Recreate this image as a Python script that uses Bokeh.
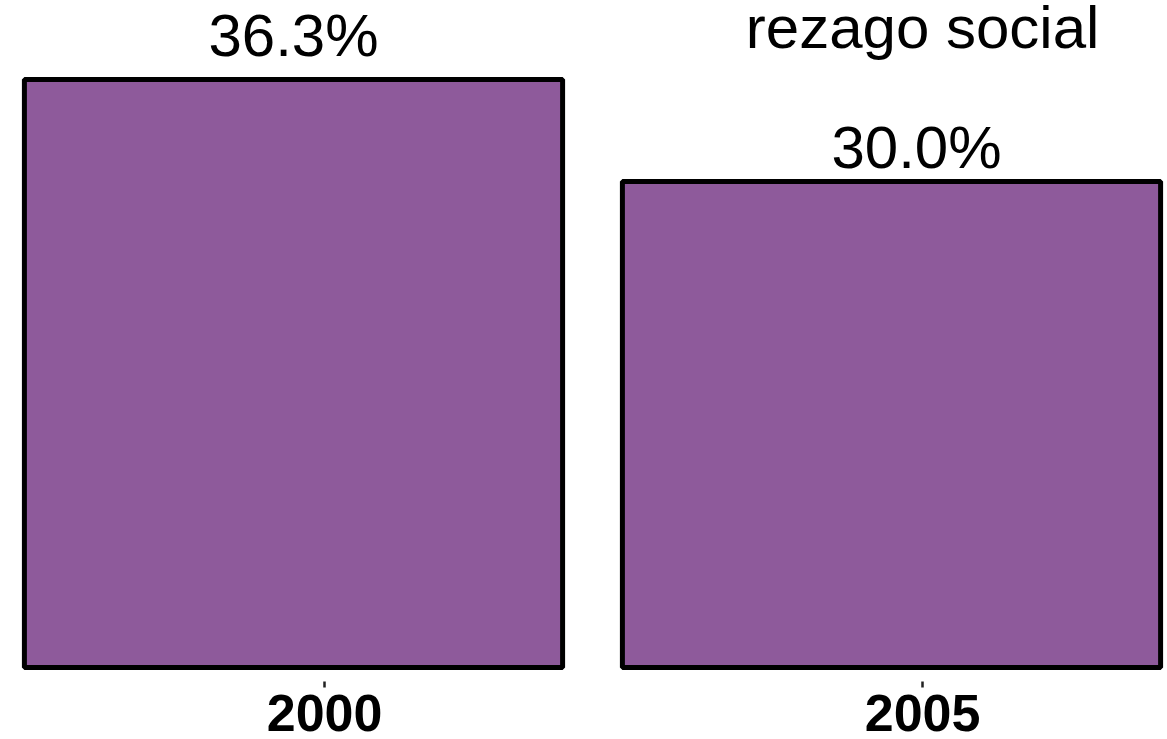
from bokeh.plotting import figure
from bokeh.models import ColumnDataSource, FixedTicker, Label, Range1d
from bokeh.core.properties import value
from bokeh.embed import file_html
from bokeh.resources import INLINE

# ---- data ----
years = ["2000", "2005"]
pct = [36.3, 30.0]
pct_labels = ["36.3%", "30.0%"]
title_text = "rezago social"

# ---- style / layout constants ----
FONT = "Liberation Sans"
BAR_FILL = "#8e5a9b"
FRAME_W = 1167
FRAME_H = 681
PX_PER_X = 598.0          # pixels per category step
PX_PER_Y = 16.198         # pixels per percentage point
BOTTOM_PAD = 14           # px between y=0 and frame bottom
LEFT_PAD = 293            # px between frame left and first bar centre
TICK_SHIFT = 0.052
label_dx = [0, 25]
label_dy = [-44, -34]

xs = list(range(len(years)))
x_start = -LEFT_PAD / PX_PER_X
x_end = x_start + FRAME_W / PX_PER_X
y_start = -BOTTOM_PAD / PX_PER_Y
y_end = y_start + FRAME_H / PX_PER_Y

src = ColumnDataSource(dict(x=xs, top=pct, lab=pct_labels, dx=label_dx, dy=label_dy))

p = figure(frame_width=FRAME_W, frame_height=FRAME_H,
           x_range=Range1d(x_start, x_end), y_range=Range1d(y_start, y_end),
           output_backend="svg", toolbar_location=None,
           min_border_left=0, min_border_right=0, min_border_top=0, min_border_bottom=0)

p.vbar(x="x", top="top", bottom=0, width=0.9, source=src,
       fill_color=BAR_FILL, line_color="black", line_width=5)

p.text(x="x", y="top", text="lab", source=src, x_offset="dx", y_offset="dy",
       text_font=value(FONT), text_font_size="60px", text_color="black",
       text_align="center", text_baseline="alphabetic")

p.add_layout(Label(x=len(years) - 1 + TICK_SHIFT, y=y_end - 27 / PX_PER_Y,
                   text=title_text, text_font=FONT, text_font_size="60px",
                   text_color="black", text_align="center", text_baseline="alphabetic"))

p.yaxis.visible = False
ticks = [i + TICK_SHIFT for i in xs]
p.xaxis.ticker = FixedTicker(ticks=ticks)
p.xaxis.major_label_overrides = {t: y for t, y in zip(ticks, years)}
p.xaxis.axis_line_color = None
p.xaxis.minor_tick_line_color = None
p.xaxis.major_tick_in = 0
p.xaxis.major_tick_out = 6
p.xaxis.major_tick_line_color = "#222222"
p.xaxis.major_tick_line_width = 2.5
p.xaxis.major_label_standoff = 7
p.xaxis.major_label_text_font = FONT
p.xaxis.major_label_text_font_size = "52px"
p.xaxis.major_label_text_line_height = 0.6
p.xaxis.major_label_text_font_style = "bold"
p.xaxis.major_label_text_color = "black"

p.xgrid.grid_line_color = None
p.ygrid.grid_line_color = None
p.outline_line_color = None
p.background_fill_color = "white"
p.border_fill_color = "white"

open("out.html", "w").write(file_html(p, INLINE))
